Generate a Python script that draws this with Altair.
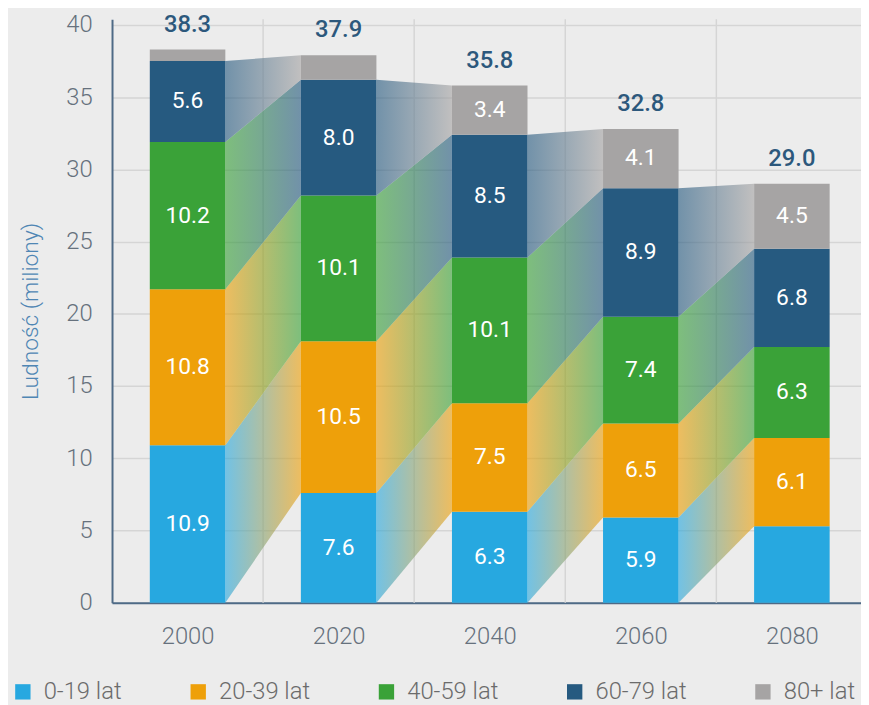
import altair as alt
import pandas as pd

# ---- data ----
years = [2000, 2020, 2040, 2060, 2080]
groups = ["0-19 lat", "20-39 lat", "40-59 lat", "60-79 lat", "80+ lat"]
v_0_19 = [10.9, 7.6, 6.3, 5.9, 5.3]
v_20_39 = [10.8, 10.5, 7.5, 6.5, 6.1]
v_40_59 = [10.2, 10.1, 10.1, 7.4, 6.3]
v_60_79 = [5.6, 8.0, 8.5, 8.9, 6.8]
v_80 = [0.8, 1.7, 3.4, 4.1, 4.5]
totals = [38.3, 37.9, 35.8, 32.8, 29.0]
hidden_labels = [(2000, "80+ lat"), (2020, "80+ lat"), (2080, "0-19 lat")]
grid_years = [2010, 2030, 2050, 2070]

colors = ["#27a8e0", "#eea00a", "#3aa238", "#265a80", "#a6a4a4"]
series = [v_0_19, v_20_39, v_40_59, v_60_79, v_80]

HALF = 5  # half bar width in years

rows = []
cum = []
for i, yr in enumerate(years):
    base = 0.0
    c = [0.0]
    for k, g in enumerate(groups):
        v = series[k][i]
        rows.append(dict(year=yr, group=g, value=v, y0=base, y1=base + v,
                         label="" if (yr, g) in hidden_labels else f"{v:.1f}"))
        base += v
        c.append(base)
    cum.append(c)
bars = pd.DataFrame(rows)
tot = pd.DataFrame(dict(year=years, total=totals, label=[f"{t:.1f}" for t in totals]))

# cohort bands: segment k of one bar flows into segment k+1 of the next
band_rows = []
for gi in range(len(years) - 1):
    for k in range(4):
        band_rows.append(dict(cohort=k, gap=gi, x=years[gi] + HALF,
                              lo=cum[gi][k], hi=cum[gi][k + 1]))
        band_rows.append(dict(cohort=k, gap=gi, x=years[gi + 1] - HALF,
                              lo=cum[gi + 1][k + 1], hi=cum[gi + 1][k + 2]))
bands = pd.DataFrame(band_rows)

xs = alt.Scale(domain=[1990, 2089.15], nice=False, zero=False)
ys = alt.Scale(domain=[0, 40.4], nice=False)

AX = "#4e6a86"
LBL = "#66717d"

x_axis = alt.Axis(values=years, format="d", grid=False, ticks=False, domainColor=AX,
                  domainWidth=2, labelFontSize=24, labelColor=LBL, labelFontWeight=300,
                  labelPadding=22, title=None)
y_axis = alt.Axis(values=list(range(0, 45, 5)), grid=True, gridColor="#d5d5d5", gridWidth=1.5,
                  ticks=False, domainColor=AX, domainWidth=2, labelFontSize=24,
                  labelColor=LBL, labelFontWeight=300, labelPadding=20,
                  title="Ludność (miliony)", titleFontSize=23, titleColor="#4f86b4",
                  titleFontWeight=300, titlePadding=24)

vgrid = alt.Chart(pd.DataFrame(dict(g=grid_years))).mark_rule(
    color="#d5d5d5", strokeWidth=1.5).encode(x=alt.X("g:Q", scale=xs, axis=x_axis))

layers = [vgrid]


def grad(c1, c2):
    return alt.Gradient(gradient="linear",
                        stops=[alt.GradientStop(color=c1, offset=0),
                               alt.GradientStop(color=c2, offset=1)],
                        x1=0, x2=1, y1=0, y2=0)


for k in range(4):
    layers.append(
        alt.Chart(bands[bands.cohort == k]).mark_area(
            fill=grad(colors[k], colors[k + 1]), fillOpacity=0.62, interpolate="linear"
        ).encode(
            x=alt.X("x:Q", scale=xs, axis=x_axis),
            y=alt.Y("lo:Q", scale=ys, axis=y_axis, stack=None),
            y2="hi:Q",
            detail="gap:N",
        )
    )

bar_chart = alt.Chart(bars).transform_calculate(
    xa=f"datum.year - {HALF}", xb=f"datum.year + {HALF}"
).mark_rect().encode(
    x=alt.X("xa:Q", scale=xs, axis=x_axis),
    x2="xb:Q",
    y=alt.Y("y0:Q", scale=ys, axis=y_axis),
    y2="y1:Q",
    color=alt.Color("group:N", scale=alt.Scale(domain=groups, range=colors),
                    legend=alt.Legend(orient="none", legendX=-102, legendY=667,
                                      direction="horizontal", title=None,
                                      symbolType="square", symbolSize=240,
                                      symbolStrokeWidth=0, labelFontSize=24,
                                      labelColor="#6b6b6b", labelFontWeight=300,
                                      labelOffset=9, columnPadding=65, padding=0)),
)
layers.append(bar_chart)

val_text = alt.Chart(bars).transform_calculate(
    mid="(datum.y0 + datum.y1) / 2"
).mark_text(color="white", fontSize=23, fontWeight=400).encode(
    x=alt.X("year:Q", scale=xs), y=alt.Y("mid:Q", scale=ys), text="label:N")
layers.append(val_text)

tot_text = alt.Chart(tot).mark_text(color="#2c587c", fontSize=24, fontWeight=500,
                                    baseline="bottom", dy=-13).encode(
    x=alt.X("year:Q", scale=xs), y=alt.Y("total:Q", scale=ys), text="label:N")
layers.append(tot_text)

chart = alt.layer(*layers).properties(
    width=756, height=589,
    autosize=alt.AutoSizeParams(type="none"),
    padding={"left": 105, "top": 8, "right": 0, "bottom": 100},
    background="#ececec",
).configure(font="Roboto").configure_view(strokeWidth=0)

chart.save("out.html", embed_options={"renderer": "svg", "actions": False})
